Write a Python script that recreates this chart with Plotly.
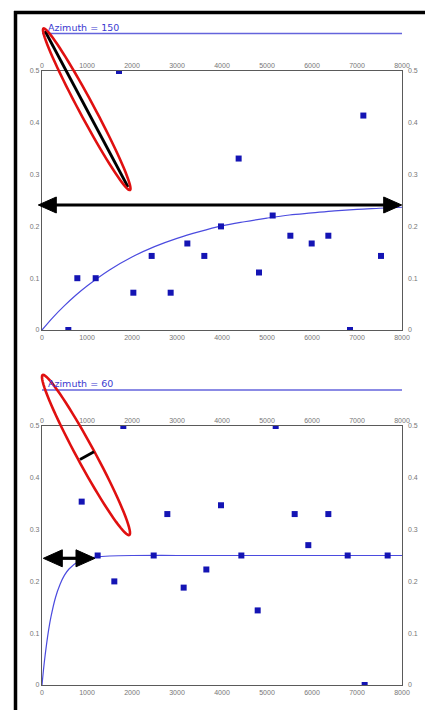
import numpy as np
import plotly.graph_objects as go

W, H = 425, 710

# ---------------- data ----------------
# Panel 1 : Azimuth = 150
az150_lag = [585, 785, 1193, 1711, 2030, 2437, 2859, 3230, 3607, 3978,
             4370, 4822, 5126, 5519, 5993, 6363, 6844, 7141, 7533]
az150_gamma = [0.0, 0.10, 0.10, 0.50, 0.072, 0.143, 0.072, 0.167, 0.143, 0.20,
               0.331, 0.111, 0.221, 0.182, 0.167, 0.182, 0.0, 0.414, 0.143]
az150_model_lag = [0, 250, 500, 750, 1000, 1500, 2000, 2500, 3000, 3500, 4000,
                   4500, 5000, 5500, 6000, 6500, 7000, 7500, 8000]
az150_model_gamma = [0.0, 0.025, 0.047, 0.067, 0.085, 0.116, 0.141, 0.161, 0.177,
                     0.190, 0.201, 0.209, 0.216, 0.222, 0.226, 0.230, 0.233, 0.235, 0.237]

# Panel 2 : Azimuth = 60
az60_lag = [882, 1237, 1607, 1807, 2482, 2785, 3148, 3652, 3978, 4430,
            4793, 5193, 5615, 5918, 6363, 6793, 7170, 7681]
az60_gamma = [0.354, 0.25, 0.20, 0.50, 0.25, 0.33, 0.188, 0.223, 0.347, 0.25,
              0.144, 0.50, 0.33, 0.27, 0.33, 0.25, 0.0, 0.25]
az60_model_lag = [0, 50, 100, 150, 200, 300, 400, 500, 600, 800, 1000, 1200,
                  1500, 2000, 3000, 4000, 5000, 6000, 7000, 8000]
az60_model_gamma = [0.0, 0.043, 0.078, 0.108, 0.132, 0.169, 0.194, 0.212, 0.224,
                    0.238, 0.244, 0.247, 0.249, 0.25, 0.25, 0.25, 0.25, 0.25, 0.25, 0.25]

titles = ["Azimuth = 150", "Azimuth = 60"]
x_ticks = [0, 1000, 2000, 3000, 4000, 5000, 6000, 7000, 8000]
y_ticks = [0, 0.1, 0.2, 0.3, 0.4, 0.5]
y_tick_text = ["0", "0.1", "0.2", "0.3", "0.4", "0.5"]

# ---------------- layout helpers ----------------
def px(x):
    return x / W

def py(y):
    return 1 - y / H

PT_COLOR = "#1414b4"
LINE_COLOR = "#4b4bdf"
TICK_FONT = dict(family="Liberation Sans", size=7, color="#767676")

# panel pixel boxes (left, right, top, bottom)
panels = [(42, 402, 71, 330), (42, 402, 426, 685)]

fig = go.Figure()

series = [
    (az150_lag, az150_gamma, az150_model_lag, az150_model_gamma),
    (az60_lag, az60_gamma, az60_model_lag, az60_model_gamma),
]

for i, (lx, gy, mx, my) in enumerate(series):
    xa = "x" if i == 0 else "x2"
    ya = "y" if i == 0 else "y2"
    xt = "x3" if i == 0 else "x4"
    yt = "y3" if i == 0 else "y4"
    fig.add_trace(go.Scatter(x=mx, y=my, mode="lines", xaxis=xa, yaxis=ya,
                             line=dict(color=LINE_COLOR, width=1.2, shape="spline"),
                             showlegend=False, hoverinfo="skip"))
    fig.add_trace(go.Scatter(x=lx, y=gy, mode="markers", xaxis=xa, yaxis=ya,
                             marker=dict(symbol="square", size=6, color=PT_COLOR,
                                         line=dict(width=0)),
                             showlegend=False))
    # empty traces so that the mirrored (top / right) label axes are drawn
    fig.add_trace(go.Scatter(x=[None], y=[None], mode="markers", xaxis=xt, yaxis=ya,
                             showlegend=False, hoverinfo="skip"))
    fig.add_trace(go.Scatter(x=[None], y=[None], mode="markers", xaxis=xa, yaxis=yt,
                             showlegend=False, hoverinfo="skip"))

layout = dict(width=W, height=H, margin=dict(l=0, r=0, t=0, b=0, autoexpand=False),
              paper_bgcolor="white", plot_bgcolor="white", showlegend=False)

for i, (l, r, t, b) in enumerate(panels):
    n = "" if i == 0 else "2"
    nt = "3" if i == 0 else "4"
    xdom = [px(l), px(r)]
    ydom = [py(b), py(t)]
    base_x = dict(range=[0, 8000], domain=xdom, showgrid=False, zeroline=False,
                  tickvals=x_ticks, ticktext=[str(v) for v in x_ticks],
                  tickfont=TICK_FONT, ticks="", automargin=False, fixedrange=True)
    base_y = dict(range=[0, 0.5], domain=ydom, showgrid=False, zeroline=False,
                  tickvals=y_ticks, ticktext=y_tick_text, tickfont=TICK_FONT, ticks="",
                  automargin=False, fixedrange=True)
    layout["xaxis" + n] = dict(base_x, anchor="y" + n, side="bottom",
                               showline=True, linecolor="#5a5a5a", linewidth=1.3,
                               mirror=True)
    layout["yaxis" + n] = dict(base_y, anchor="x" + n, side="left",
                               showline=True, linecolor="#5a5a5a", linewidth=1.3,
                               mirror=True)
    layout["xaxis" + nt] = dict(base_x, anchor="y" + n, side="top",
                                overlaying="x" + n, showline=False, ticklabelstandoff=1)
    layout["yaxis" + nt] = dict(base_y, anchor="x" + n, side="right",
                                overlaying="y" + n, showline=False, ticklabelstandoff=5)

fig.update_layout(**layout)

shapes = []
annotations = []

# titles (blue text with line underneath)
title_y = [(27.5, 33.5), (383.5, 390)]
for (ty, ly), txt in zip(title_y, titles):
    annotations.append(dict(text=txt, xref="paper", yref="paper", x=px(46), y=py(ty),
                            xanchor="left", yanchor="middle", showarrow=False,
                            font=dict(family="DejaVu Sans", size=9.5, color="#3a3ad0")))
    shapes.append(dict(type="line", xref="paper", yref="paper",
                       x0=px(42), x1=px(402), y0=py(ly), y1=py(ly),
                       line=dict(color="#6464dc", width=1.4)))

# black frame of the screenshot
shapes.append(dict(type="line", xref="paper", yref="paper", x0=px(14), x1=px(425),
                   y0=py(12.5), y1=py(12.5), line=dict(color="black", width=3.5)))
shapes.append(dict(type="line", xref="paper", yref="paper", x0=px(15.5), x1=px(15.5),
                   y0=py(11), y1=py(710), line=dict(color="black", width=3.5)))


def ellipse_path(p1, p2, b, n=80):
    cx, cy = (p1[0] + p2[0]) / 2, (p1[1] + p2[1]) / 2
    dx, dy = p2[0] - p1[0], p2[1] - p1[1]
    a = np.hypot(dx, dy) / 2
    ang = np.arctan2(dy, dx)
    t = np.linspace(0, 2 * np.pi, n)
    xs = cx + a * np.cos(t) * np.cos(ang) - b * np.sin(t) * np.sin(ang)
    ys = cy + a * np.cos(t) * np.sin(ang) + b * np.sin(t) * np.cos(ang)
    pts = [f"{px(x):.5f},{py(y):.5f}" for x, y in zip(xs, ys)]
    return "M " + " L ".join(pts) + " Z"


def seg(p1, p2, color="black", width=3):
    return dict(type="line", xref="paper", yref="paper", x0=px(p1[0]), y0=py(p1[1]),
                x1=px(p2[0]), y1=py(p2[1]), line=dict(color=color, width=width))


def tri(tip, direction, length, half):
    x0, y0 = tip
    bx = x0 + length * (1 if direction == "left" else -1)
    pts = [(x0, y0), (bx, y0 - half), (bx, y0 + half)]
    return dict(type="path", xref="paper", yref="paper",
                path="M " + " L ".join(f"{px(x):.5f},{py(y):.5f}" for x, y in pts) + " Z",
                fillcolor="black", line=dict(color="black", width=1))


# top panel: ellipse + range line
shapes.append(seg((45, 31), (128, 187), width=2.8))
shapes.append(dict(type="path", xref="paper", yref="paper",
                   path=ellipse_path((43.5, 28.5), (130, 190), 7.5),
                   line=dict(color="#e01010", width=2.6)))
shapes.append(seg((50, 205), (390, 205), width=3.2))
shapes.append(tri((38.3, 205), "left", 18, 8))
shapes.append(tri((401.7, 205), "right", 18, 8))

# bottom panel: ellipse + short line + range arrow
shapes.append(dict(type="path", xref="paper", yref="paper",
                   path=ellipse_path((42.7, 375), (129.3, 535), 9),
                   line=dict(color="#e01010", width=2.6)))
shapes.append(seg((80, 459.5), (94, 451.8), width=2.8))
shapes.append(seg((55, 558.3), (84, 558.3), width=3.2))
shapes.append(tri((43.3, 558.3), "left", 19, 8.5))
shapes.append(tri((95, 558.3), "right", 19, 8.5))

fig.update_layout(shapes=shapes, annotations=annotations)

fig.write_html("out.html", config={"displayModeBar": False},
               post_script="document.body.style.margin='0';document.body.style.overflow='hidden';")
